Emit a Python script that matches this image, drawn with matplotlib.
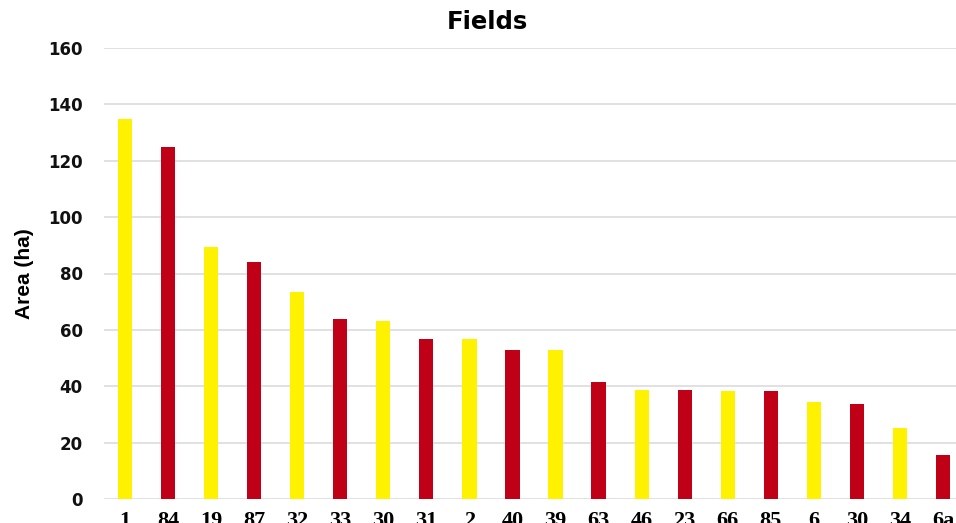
import matplotlib
matplotlib.use("Agg")
import matplotlib.pyplot as plt
import numpy as np

# field ids in the order they are plotted (largest first)
fields = ['1', '84', '19', '87', '32', '33', '30', '31', '2', '40',
          '39', '63', '46', '23', '66', '85', '6', '30', '34', '6a']
area_ha = [134.8, 124.8, 89.4, 84.1, 73.4, 63.8, 63.1, 56.8, 56.8, 52.9,
           52.8, 41.4, 38.8, 38.7, 38.4, 38.3, 34.5, 33.8, 25.3, 15.6]

YELLOW = '#FFF200'
RED = '#C00016'
colors = [YELLOW if i % 2 == 0 else RED for i in range(len(fields))]

fig = plt.figure(figsize=(9.56, 5.23), dpi=100)
# plot area runs a little past the right edge of the canvas
ax = fig.add_axes([103.5 / 956, 24 / 523, 861 / 956, 451 / 523])

x = np.arange(len(fields))
ax.bar(x, area_ha, width=0.33, color=colors, zorder=3)

ax.set_xlim(-0.5, len(fields) - 0.5)
ax.set_ylim(0, 160)
ax.set_yticks(np.arange(0, 161, 20))
ax.grid(axis='y', color='#dedede', linewidth=1.3, zorder=0)
for s in ax.spines.values():
    s.set_visible(False)

ax.set_xticks(x)
ax.set_xticklabels(fields, fontfamily='Liberation Serif', fontweight='bold',
                   fontsize=16)
ax.tick_params(axis='x', length=0, pad=9)
ax.tick_params(axis='y', length=0, pad=15, labelsize=12)
for t in ax.get_yticklabels():
    t.set_fontweight('bold')
    t.set_color('#111111')

fig.text(24 / 956, 1 - 274 / 523, 'Area (ha)', rotation=90, ha='center',
         va='center', fontsize=15, fontweight='bold',
         family=['Liberation Sans Narrow', 'Liberation Sans'])
fig.text(487 / 956, 1 - 22 / 523, 'Fields', ha='center', va='center',
         fontsize=17.5, fontweight='bold')

fig.savefig('out.png', dpi=100)
